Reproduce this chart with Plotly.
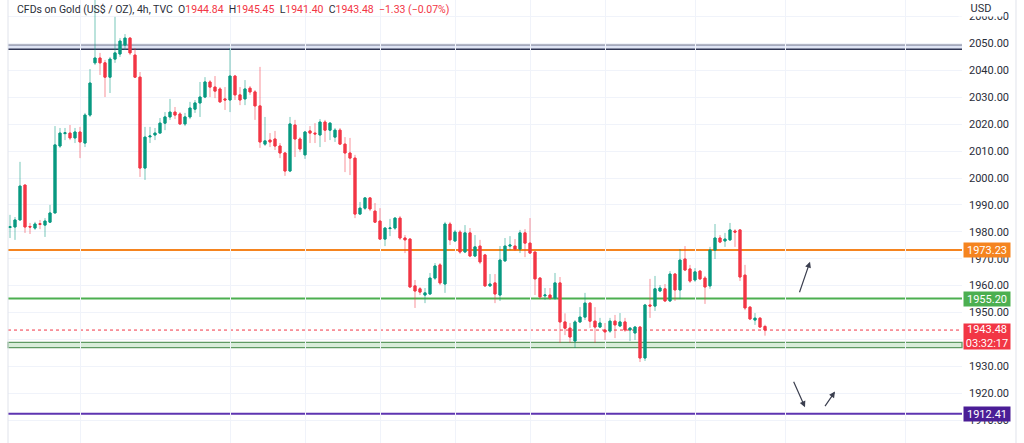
import plotly.graph_objects as go

# ---------------- data ----------------
OPEN = [1981.6, 1981.8, 1984.4, 1997.4, 1982.0, 1981.4, 1983.0, 1982.5, 1983.6, 1987.0,
        2011.9, 2016.5, 2016.7, 2014.9, 2017.1, 2013.0, 2023.4, 2042.8, 2044.6, 2042.8,
        2037.5, 2044.2, 2046.1, 2049.4, 2052.0, 2045.7, 2037.5, 2003.7, 2015.3, 2016.0,
        2016.7, 2020.4, 2022.7, 2024.5, 2023.8, 2020.1, 2022.7, 2025.6, 2027.9, 2030.1,
        2035.7, 2033.8, 2033.1, 2029.4, 2029.0, 2037.9, 2030.9, 2029.4, 2033.4, 2032.0,
        2026.8, 2012.6, 2014.1, 2014.5, 2011.9, 2009.3, 2002.6, 2019.7, 2014.5, 2008.6,
        2017.5, 2016.7, 2016.0, 2020.8, 2017.8, 2015.2, 2017.8, 2012.6, 2009.3, 2007.4,
        1986.6, 1988.8, 1992.6, 1987.7, 1984.0, 1977.3, 1981.2, 1981.4, 1985.1, 1977.7,
        1977.3, 1959.9, 1958.8, 1956.5, 1956.9, 1962.8, 1967.7, 1960.6, 1982.9, 1976.6,
        1979.9, 1972.5, 1979.6, 1971.0, 1974.7, 1971.4, 1959.9, 1961.0, 1956.5, 1969.2,
        1974.7, 1974.7, 1973.6, 1979.6, 1975.8, 1972.5, 1962.8, 1956.2, 1956.5, 1955.4,
        1961.0, 1946.5, 1944.2, 1939.4, 1946.5, 1948.3, 1953.5, 1946.8, 1944.6, 1943.5,
        1943.1, 1946.8, 1945.0, 1946.5, 1943.5, 1942.4, 1944.6, 1933.1, 1952.8, 1952.4,
        1958.0, 1958.8, 1954.3, 1964.3, 1958.4, 1969.9, 1966.2, 1962.1, 1965.4, 1962.8,
        1959.9, 1973.2, 1977.7, 1976.6, 1977.0, 1980.3, 1980.7, 1963.9, 1952.0, 1947.2,
        1947.9, 1944.84]
HIGH = [1986.3, 1985.5, 2006.0, 1997.4, 1983.3, 1983.7, 1984.4, 1985.1, 1990.0, 2019.3,
        2018.6, 2018.6, 2019.7, 2018.6, 2019.0, 2024.2, 2040.5, 2066.5, 2046.5, 2043.9,
        2045.0, 2059.9, 2052.0, 2053.5, 2052.4, 2048.3, 2039.4, 2019.0, 2019.0, 2018.6,
        2022.3, 2024.5, 2029.4, 2026.4, 2024.5, 2024.2, 2028.3, 2029.0, 2035.7, 2037.5,
        2036.4, 2037.9, 2033.8, 2033.8, 2048.3, 2038.3, 2033.8, 2036.4, 2034.2, 2032.7,
        2041.3, 2022.7, 2016.7, 2017.5, 2013.0, 2009.7, 2022.7, 2021.6, 2015.2, 2017.5,
        2019.3, 2020.4, 2021.9, 2021.6, 2020.8, 2018.6, 2018.6, 2015.2, 2014.9, 2008.6,
        1991.1, 1992.9, 1992.9, 1990.7, 1988.8, 1981.8, 1984.8, 1985.5, 1985.9, 1978.8,
        1977.7, 1962.1, 1959.5, 1959.1, 1964.7, 1968.4, 1968.4, 1983.7, 1983.7, 1980.7,
        1980.7, 1982.5, 1981.4, 1978.8, 1977.0, 1971.8, 1964.3, 1964.3, 1974.7, 1977.7,
        1978.4, 1977.3, 1980.7, 1981.0, 1985.1, 1972.5, 1963.2, 1959.1, 1959.1, 1964.7,
        1963.2, 1949.7, 1946.1, 1947.2, 1952.0, 1957.3, 1953.9, 1952.0, 1948.0, 1946.1,
        1948.0, 1949.1, 1949.8, 1948.0, 1944.6, 1945.0, 1945.0, 1953.2, 1962.5, 1963.6,
        1960.2, 1960.6, 1965.4, 1964.7, 1973.6, 1974.7, 1967.7, 1966.5, 1965.8, 1963.6,
        1974.4, 1982.9, 1978.8, 1979.6, 1983.3, 1981.0, 1981.0, 1967.7, 1952.4, 1949.8,
        1948.3, 1945.45]
LOW = [1977.7, 1977.0, 1984.4, 1979.6, 1979.2, 1980.7, 1981.0, 1978.1, 1983.3, 1987.0,
       2011.2, 2014.1, 2014.1, 2013.0, 2007.4, 2011.5, 2022.7, 2042.0, 2038.3, 2030.1,
       2031.6, 2042.8, 2045.0, 2047.6, 2045.7, 2037.2, 2000.4, 1999.3, 2013.0, 2014.1,
       2016.7, 2017.8, 2021.6, 2021.9, 2019.7, 2019.3, 2021.9, 2024.2, 2022.7, 2029.7,
       2030.1, 2029.7, 2027.9, 2025.3, 2024.5, 2029.0, 2027.1, 2027.1, 2030.9, 2021.6,
       2011.2, 2011.9, 2011.5, 2010.4, 2007.4, 2000.8, 2002.2, 2007.8, 2009.7, 2007.1,
       2013.0, 2013.0, 2011.5, 2013.4, 2014.1, 2013.4, 2012.3, 2002.2, 2001.1, 1985.1,
       1986.3, 1988.1, 1987.7, 1983.3, 1977.0, 1974.7, 1978.4, 1980.7, 1977.0, 1972.1,
       1959.1, 1951.7, 1956.5, 1953.5, 1956.5, 1962.1, 1960.2, 1957.3, 1975.1, 1976.2,
       1971.8, 1972.1, 1970.6, 1970.6, 1968.0, 1959.5, 1959.5, 1953.5, 1954.3, 1968.8,
       1973.2, 1972.9, 1972.1, 1970.6, 1971.8, 1956.5, 1955.0, 1954.7, 1954.7, 1954.7,
       1938.7, 1941.6, 1938.7, 1936.8, 1946.1, 1947.2, 1944.3, 1938.7, 1944.3, 1939.8,
       1942.4, 1940.5, 1944.6, 1942.8, 1939.4, 1939.8, 1931.6, 1932.0, 1948.0, 1950.6,
       1957.6, 1953.9, 1953.9, 1954.3, 1955.0, 1965.4, 1961.0, 1961.4, 1962.1, 1953.2,
       1958.8, 1969.9, 1975.8, 1974.4, 1976.6, 1974.4, 1961.7, 1950.9, 1947.2, 1945.4,
       1944.3, 1941.40]
CLOSE = [1981.9, 1984.4, 1997.0, 1981.8, 1981.8, 1982.9, 1982.8, 1984.0, 1987.0, 2012.3,
         2016.7, 2016.8, 2014.9, 2017.1, 2013.4, 2023.4, 2035.3, 2044.6, 2042.8, 2037.5,
         2044.2, 2046.5, 2050.9, 2052.0, 2046.5, 2037.5, 2003.7, 2015.2, 2015.6, 2016.7,
         2020.4, 2022.7, 2024.5, 2023.4, 2020.1, 2022.7, 2026.0, 2027.9, 2030.1, 2035.7,
         2033.8, 2032.3, 2028.3, 2029.0, 2037.9, 2030.9, 2029.0, 2033.1, 2032.0, 2026.8,
         2013.4, 2013.8, 2013.4, 2011.9, 2009.3, 2002.6, 2020.1, 2014.5, 2010.8, 2017.1,
         2016.7, 2016.4, 2020.8, 2017.8, 2020.4, 2017.8, 2012.6, 2009.3, 2007.4, 1986.6,
         1988.8, 1992.6, 1988.5, 1983.6, 1977.3, 1981.4, 1981.4, 1985.1, 1977.7, 1977.0,
         1959.5, 1958.0, 1957.6, 1957.3, 1962.8, 1967.3, 1961.0, 1982.9, 1977.0, 1979.9,
         1972.5, 1979.6, 1971.0, 1974.4, 1968.8, 1959.9, 1960.6, 1956.9, 1969.5, 1974.7,
         1975.1, 1973.6, 1979.6, 1975.8, 1972.1, 1962.5, 1955.8, 1956.5, 1955.4, 1961.0,
         1946.5, 1944.2, 1940.9, 1946.5, 1948.3, 1953.5, 1946.8, 1944.6, 1946.1, 1942.8,
         1946.8, 1945.4, 1946.5, 1943.5, 1944.2, 1944.6, 1933.1, 1952.8, 1952.4, 1958.8,
         1959.1, 1954.3, 1964.3, 1958.4, 1969.5, 1965.8, 1961.7, 1965.1, 1962.5, 1959.5,
         1973.2, 1977.7, 1976.2, 1977.3, 1980.7, 1979.9, 1963.2, 1951.7, 1947.6, 1947.9,
         1944.6, 1943.48]
BAR_INDEX = list(range(len(OPEN)))

# horizontal levels drawn on the chart
LEVEL_ORANGE = 1973.23
LEVEL_GREEN = 1955.20
LEVEL_LAST = 1943.48
LEVEL_PURPLE = 1912.41
BAND_TOP = [2047.85, 2049.45]
BAND_GREEN = [1936.93, 1938.93]

Y_TICKS = list(range(1910, 2061, 10))
GRID_X = [14, 44, 59, 74, 89, 104, 119, 137, 155, 179]

# hand-drawn arrows: head (bar index, price) and tail offset (px)
ARROWS = [(160, 1968.9, -11, 32), (159, 1914.8, -12, -27), (165, 1920.6, -11, 16)]

TITLE = "CFDs on Gold (US$ / OZ), 4h, TVC"
HDR_O, HDR_H, HDR_L, HDR_C = "1944.84", "1945.45", "1941.40", "1943.48"
HDR_CHG = "\u22121.33 (\u22120.07%)"
COUNTDOWN = "03:32:17"

# ---------------- styles ----------------
UP = "#089981"
DOWN = "#f23645"
UP_W = "rgba(8,153,129,0.55)"
DOWN_W = "rgba(242,54,69,0.55)"
GRID = "#f0f3fa"
TXT = "#2a2e39"
FONT = "Roboto"

body_hi = [max(o, c) for o, c in zip(OPEN, CLOSE)]
body_lo = [min(o, c) for o, c in zip(OPEN, CLOSE)]

fig = go.Figure()
# wicks (lighter)
fig.add_trace(go.Candlestick(
    x=BAR_INDEX, open=OPEN, high=HIGH, low=LOW, close=CLOSE,
    increasing=dict(line=dict(color=UP_W, width=1), fillcolor=UP_W),
    decreasing=dict(line=dict(color=DOWN_W, width=1), fillcolor=DOWN_W),
    hoverinfo="skip", showlegend=False))
# bodies
fig.add_trace(go.Candlestick(
    x=BAR_INDEX, open=OPEN, high=body_hi, low=body_lo, close=CLOSE,
    increasing=dict(line=dict(color=UP, width=1), fillcolor=UP),
    decreasing=dict(line=dict(color=DOWN, width=1), fillcolor=DOWN),
    showlegend=False))

shapes = []
# top double line band
shapes.append(dict(type="rect", xref="paper", x0=0, x1=1, yref="y", y0=BAND_TOP[0], y1=BAND_TOP[1],
                   fillcolor="#dfe4f4", line=dict(width=0), layer="between"))
shapes.append(dict(type="line", xref="paper", x0=0, x1=1, yref="y", y0=BAND_TOP[1], y1=BAND_TOP[1],
                   line=dict(color="#6b7089", width=1.2), layer="between"))
shapes.append(dict(type="line", xref="paper", x0=0, x1=1, yref="y", y0=BAND_TOP[0], y1=BAND_TOP[0],
                   line=dict(color="#2f3552", width=1.5), layer="between"))
# green band
shapes.append(dict(type="rect", xref="paper", x0=0, x1=1, yref="y", y0=BAND_GREEN[0], y1=BAND_GREEN[1],
                   fillcolor="rgba(76,175,80,0.22)", line=dict(color="#5f9a63", width=1.3), layer="between"))
# levels
shapes.append(dict(type="line", xref="paper", x0=0, x1=1, yref="y", y0=LEVEL_ORANGE, y1=LEVEL_ORANGE,
                   line=dict(color="#f5841f", width=2), layer="between"))
shapes.append(dict(type="line", xref="paper", x0=0, x1=1, yref="y", y0=LEVEL_GREEN, y1=LEVEL_GREEN,
                   line=dict(color="#4caf50", width=2), layer="between"))
shapes.append(dict(type="line", xref="paper", x0=0, x1=1, yref="y", y0=LEVEL_LAST, y1=LEVEL_LAST,
                   line=dict(color="#f23645", width=1, dash="dot"), layer="between"))
shapes.append(dict(type="line", xref="paper", x0=0, x1=1, yref="y", y0=LEVEL_PURPLE, y1=LEVEL_PURPLE,
                   line=dict(color="#5e35b1", width=2), layer="between"))
# pane borders
shapes.append(dict(type="line", xref="paper", x0=0, x1=0, yref="paper", y0=0, y1=1,
                   line=dict(color="#e0e3eb", width=1)))
shapes.append(dict(type="line", xref="paper", x0=1.0566, x1=1.0566, yref="paper", y0=0, y1=1,
                   line=dict(color="#e0e3eb", width=1)))

annotations = []
red = "<span style='color:#f23645'>%s</span>"
hdr = (TITLE + "\u00a0\u00a0O" + red % HDR_O + "\u00a0\u00a0H" + red % HDR_H +
       "\u00a0\u00a0L" + red % HDR_L + "\u00a0\u00a0C" + red % HDR_C + "\u00a0\u00a0" + red % HDR_CHG)
annotations.append(dict(text=hdr, xref="paper", yref="paper", x=0.0073, y=1 - 9 / 443,
                        xanchor="left", yanchor="middle", showarrow=False,
                        font=dict(family=FONT, size=10.5, color=TXT)))
annotations.append(dict(text="USD", xref="paper", yref="paper", x=1.0199, y=1,
                        xanchor="center", yanchor="top", showarrow=False, bgcolor="white",
                        width=44, height=15, borderpad=0,
                        font=dict(family=FONT, size=11, color=TXT)))


def price_tag(val, color, text=None, lines=1):
    d = dict(text=text or f"{val:.2f}", xref="paper", yref="y", x=1.001, y=val,
             xanchor="left", showarrow=False, bgcolor=color, borderpad=1, width=44,
             font=dict(family=FONT, size=11, color="white"), align="center")
    if lines == 1:
        d.update(yanchor="middle", height=12)
    else:
        d.update(yanchor="top", height=23, yshift=7)
    return d


annotations.append(price_tag(LEVEL_ORANGE, "#f5841f"))
annotations.append(price_tag(LEVEL_GREEN, "#4caf50"))
annotations.append(price_tag(LEVEL_LAST, "#f23645", text=f"{LEVEL_LAST:.2f}<br>{COUNTDOWN}", lines=2))
annotations.append(price_tag(LEVEL_PURPLE, "#4a1d96"))

for hx, hy, dx, dy in ARROWS:
    annotations.append(dict(x=hx, y=hy, xref="x", yref="y", ax=dx, ay=dy, axref="pixel", ayref="pixel",
                            text="", showarrow=True, arrowhead=2, arrowsize=1, arrowwidth=1.2,
                            arrowcolor="#3b3f4f"))

fig.update_layout(
    width=1024, height=443,
    margin=dict(l=8, r=62, t=0, b=0, pad=0),
    paper_bgcolor="white", plot_bgcolor="white",
    showlegend=False, boxgap=0.4,
    shapes=shapes, annotations=annotations,
    xaxis=dict(range=[-0.4, 190.4], tickvals=GRID_X, showticklabels=False, ticks="",
               showgrid=True, gridcolor=GRID, gridwidth=1, zeroline=False, showline=False,
               rangeslider=dict(visible=False), fixedrange=True),
    yaxis=dict(side="right", range=[1901.5, 2066.17], tickvals=Y_TICKS, tickformat=".2f",
               showgrid=True, gridcolor=GRID, gridwidth=1, zeroline=False, showline=False,
               ticks="", ticklabelstandoff=6, fixedrange=True,
               tickfont=dict(family=FONT, size=11, color=TXT)),
)

fig.write_html("out.html", config={"displayModeBar": False})
